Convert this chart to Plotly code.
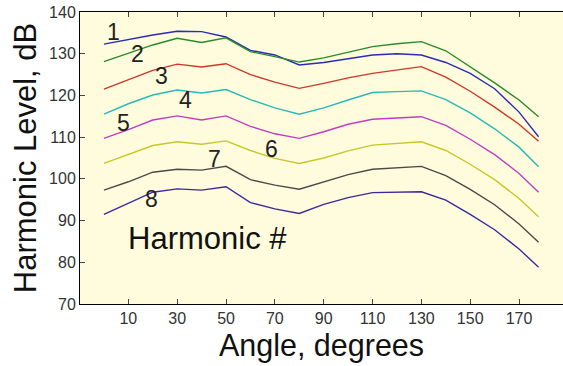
import plotly.graph_objects as go

angles = [0, 10, 20, 30, 40, 50, 60, 70, 80, 90, 100, 110, 120, 130, 140, 150, 160, 170, 178]
h1 = [132.3, 133.4, 134.5, 135.4, 135.3, 134.0, 130.8, 129.7, 127.3, 127.9, 128.8, 129.7, 130.0, 129.7, 127.9, 125.3, 121.6, 116.0, 110.1]
h2 = [128.1, 130.1, 132.1, 133.7, 132.7, 133.8, 130.5, 129.3, 128.0, 129.0, 130.4, 131.7, 132.4, 132.9, 130.7, 126.9, 123.0, 118.9, 114.9]
h3 = [121.5, 123.7, 126.0, 127.5, 126.8, 127.6, 125.0, 123.2, 121.7, 122.9, 124.2, 125.3, 126.1, 126.9, 124.4, 121.0, 117.2, 113.1, 109.0]
h4 = [115.5, 118.0, 120.1, 121.3, 120.6, 121.4, 119.0, 117.0, 115.5, 117.0, 118.9, 120.7, 120.9, 121.1, 119.0, 115.8, 112.0, 107.6, 102.9]
h5 = [109.7, 111.8, 114.1, 115.1, 114.1, 115.1, 112.6, 110.8, 109.7, 111.3, 113.1, 114.3, 114.6, 114.9, 112.8, 109.5, 105.8, 101.3, 96.8]
h6 = [103.7, 105.8, 108.0, 108.9, 108.3, 109.1, 106.8, 104.9, 103.7, 105.0, 106.7, 108.1, 108.5, 108.9, 106.8, 103.5, 99.8, 95.3, 90.9]
h7 = [97.3, 99.3, 101.6, 102.3, 102.1, 103.0, 99.8, 98.5, 97.5, 99.3, 101.0, 102.3, 102.6, 103.0, 100.8, 97.5, 93.8, 89.2, 84.8]
h8 = [91.5, 94.2, 96.8, 97.6, 97.3, 98.1, 94.3, 92.8, 91.7, 93.9, 95.5, 96.7, 96.8, 96.9, 94.9, 91.5, 87.8, 83.2, 78.8]

series = [h1, h2, h3, h4, h5, h6, h7, h8]
names = ["1", "2", "3", "4", "5", "6", "7", "8"]
colors = ["#2b2bb5", "#2a8a2a", "#d0372a", "#2ab8b8", "#c23cc8", "#c8c828", "#4a4a4a", "#3a2aa0"]
xticks = [10, 30, 50, 70, 90, 110, 130, 150, 170]
yticks = [70, 80, 90, 100, 110, 120, 130, 140]

# label anchor positions (layout, in data coords)
label_pos = [(3.8, 135.1), (13.8, 129.9), (23.4, 124.7), (33.2, 118.9),
             (8.2, 113.3), (68.6, 107.2), (45.1, 104.7), (19.3, 95.2)]

fig = go.Figure()
for name, ys, c in zip(names, series, colors):
    fig.add_trace(go.Scatter(x=angles, y=ys, mode="lines", name=name,
                             line=dict(color=c, width=1.4), showlegend=False))

annotations = []
for name, (ax, ay) in zip(names, label_pos):
    annotations.append(dict(x=ax, y=ay, text=name, showarrow=False,
                            font=dict(family="Liberation Sans, Arial", size=23, color="#222"),
                            xanchor="center", yanchor="middle"))
annotations.append(dict(x=42.6, y=85.6, text="Harmonic #", showarrow=False,
                        font=dict(family="Liberation Sans, Arial", size=31, color="#111"),
                        xanchor="center", yanchor="middle"))

fig.update_layout(
    width=563, height=366,
    margin=dict(l=80, r=0, t=12, b=62),
    paper_bgcolor="white",
    plot_bgcolor="#fefcdc",
    annotations=annotations,
    font=dict(family="Liberation Sans, Arial"),
)
fig.update_xaxes(range=[-9.8, 188], tickvals=xticks, ticks="inside", ticklen=5,
                 showline=True, linecolor="black", linewidth=1, mirror="ticks",
                 showgrid=False, zeroline=False,
                 tickfont=dict(size=16, color="#333"),
                 title=dict(text="Angle, degrees", font=dict(size=30.5, color="#111"), standoff=8))
fig.update_yaxes(range=[70, 140], tickvals=yticks, ticks="inside", ticklen=5,
                 showline=True, linecolor="black", linewidth=1, mirror=False,
                 showgrid=False, zeroline=False,
                 tickfont=dict(size=16, color="#333"),
                 title=dict(text="Harmonic Level, dB", font=dict(size=31, color="#111"), standoff=3))

fig.write_html("out.html")
